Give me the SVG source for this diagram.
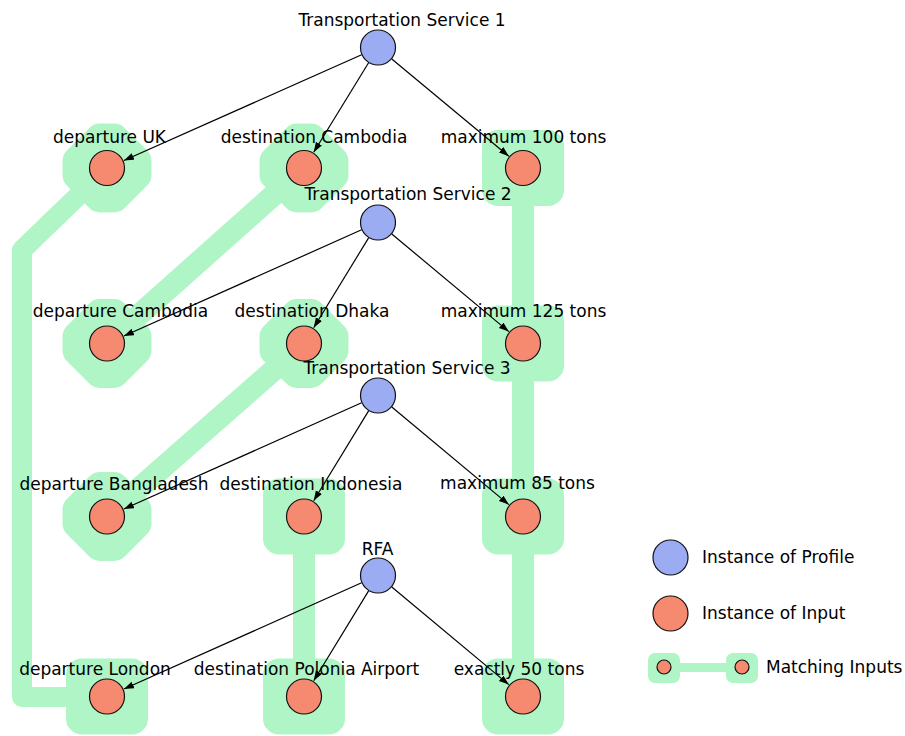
<svg xmlns="http://www.w3.org/2000/svg" xmlns:xlink="http://www.w3.org/1999/xlink" width="905" height="736" viewBox="0 0 905 736">
<style>
  .g { fill: #aff5c5; stroke: #aff5c5; }
  .gs { fill: #aff5c5; stroke: none; }
  .bar { fill: none; stroke: #aff5c5; stroke-width: 22; }
  .oct { stroke-width: 30; stroke-linejoin: round; }
  .edge { fill: none; stroke: #000; stroke-width: 1.2; marker-end: url(#arrow); }
  .prof { fill: #9bacf2; stroke: #111; stroke-width: 1.2; }
  .inp { fill: #f68a70; stroke: #111; stroke-width: 1.2; }
  text { font-family: "DejaVu Sans", "Liberation Sans", sans-serif; font-size: 17px; fill: #000; }
  .c { text-anchor: middle; }
</style>
<defs>
  <marker id="arrow" markerUnits="userSpaceOnUse" markerWidth="11" markerHeight="8" refX="10" refY="3.5" orient="auto">
    <path d="M0,0 L10,3.5 L0,7 z" fill="#000"/>
  </marker>
  <polygon id="oct" points="29.5,-7 29.5,7 7,29.5 -7,29.5 -29.5,7 -29.5,-7 -7,-29.5 7,-29.5"/>
  <rect id="sq" x="-41" y="-38" width="82" height="76" rx="16"/>
</defs>

<g id="matches">
  <line class="bar" x1="523" y1="168" x2="523" y2="696.5"/>
  <use href="#sq" class="gs" x="523" y="168"/>
  <use href="#sq" class="gs" x="523" y="343.5"/>
  <use href="#sq" class="gs" x="523" y="516.5"/>
  <use href="#sq" class="gs" x="523" y="696.5"/>
  <line class="bar" x1="304" y1="516.5" x2="304" y2="696.5"/>
  <use href="#sq" class="gs" x="304" y="516.5"/>
  <use href="#sq" class="gs" x="304" y="696.5"/>
  <path d="M107,168 L22,250 L22,697 L107,697" fill="none" stroke="#aff5c5" stroke-width="20" stroke-linejoin="round"/>
  <use href="#oct" class="g oct" x="107" y="168"/>
  <use href="#sq" class="gs" x="107" y="696.5"/>
  <line class="bar" x1="304" y1="168" x2="107" y2="343.5"/>
  <use href="#oct" class="g oct" x="304" y="168"/>
  <use href="#oct" class="g oct" x="107" y="343.5"/>
  <line class="bar" x1="304" y1="343.5" x2="107" y2="516.5"/>
  <use href="#oct" class="g oct" x="304" y="343.5"/>
  <use href="#oct" class="g oct" x="107" y="516.5"/>
</g>

<g id="edges">
  <line class="edge" x1="361.6" y1="54.8" x2="123.9" y2="160.5"/>
  <line class="edge" x1="368.6" y1="62.8" x2="313.7" y2="152.2"/>
  <line class="edge" x1="391.8" y1="59.0" x2="508.8" y2="156.2"/>

  <line class="edge" x1="361.6" y1="229.8" x2="123.9" y2="336.0"/>
  <line class="edge" x1="368.6" y1="237.9" x2="313.7" y2="327.7"/>
  <line class="edge" x1="391.8" y1="234.0" x2="508.8" y2="331.6"/>

  <line class="edge" x1="361.6" y1="402.8" x2="123.9" y2="509.0"/>
  <line class="edge" x1="368.6" y1="410.9" x2="313.7" y2="500.7"/>
  <line class="edge" x1="391.8" y1="407.0" x2="508.8" y2="504.6"/>

  <line class="edge" x1="361.6" y1="582.8" x2="123.9" y2="689.0"/>
  <line class="edge" x1="368.6" y1="590.9" x2="313.7" y2="680.7"/>
  <line class="edge" x1="391.8" y1="587.0" x2="508.8" y2="684.6"/>
</g>

<g id="ts1"><circle class="prof" cx="378" cy="47.5" r="17.5"/><text class="c" x="402" y="26">Transportation Service 1</text></g>
<g id="ts2"><circle class="prof" cx="378" cy="222.5" r="17.5"/><text class="c" x="408" y="200">Transportation Service 2</text></g>
<g id="ts3"><circle class="prof" cx="378" cy="395.5" r="17.5"/><text class="c" x="407" y="374">Transportation Service 3</text></g>
<g id="rfa"><circle class="prof" cx="378" cy="575.5" r="17.5"/><text class="c" x="377.5" y="555">RFA</text></g>

<g id="dep-uk"><circle class="inp" cx="107" cy="168" r="17.5"/><text class="c" x="109.5" y="143">departure UK</text></g>
<g id="dest-cambodia"><circle class="inp" cx="304" cy="168" r="17.5"/><text class="c" x="314" y="143">destination Cambodia</text></g>
<g id="max-100"><circle class="inp" cx="523" cy="168" r="17.5"/><text class="c" x="523.5" y="143">maximum 100 tons</text></g>

<g id="dep-cambodia"><circle class="inp" cx="107" cy="343.5" r="17.5"/><text class="c" x="120.5" y="317">departure Cambodia</text></g>
<g id="dest-dhaka"><circle class="inp" cx="304" cy="343.5" r="17.5"/><text class="c" x="312" y="317">destination Dhaka</text></g>
<g id="max-125"><circle class="inp" cx="523" cy="343.5" r="17.5"/><text class="c" x="523.5" y="317">maximum 125 tons</text></g>

<g id="dep-bangladesh"><circle class="inp" cx="107" cy="516.5" r="17.5"/><text class="c" x="114" y="490">departure Bangladesh</text></g>
<g id="dest-indonesia"><circle class="inp" cx="304" cy="516.5" r="17.5"/><text class="c" x="311" y="490">destination Indonesia</text></g>
<g id="max-85"><circle class="inp" cx="523" cy="516.5" r="17.5"/><text class="c" x="517.5" y="489">maximum 85 tons</text></g>

<g id="dep-london"><circle class="inp" cx="107" cy="696.5" r="17.5"/><text class="c" x="95" y="675">departure London</text></g>
<g id="dest-polonia"><circle class="inp" cx="304" cy="696.5" r="17.5"/><text class="c" x="306.5" y="675">destination Polonia Airport</text></g>
<g id="exactly-50"><circle class="inp" cx="523" cy="696.5" r="17.5"/><text class="c" x="519" y="675">exactly 50 tons</text></g>

<g id="legend">
  <circle class="prof" cx="670.5" cy="557.5" r="17.5"/>
  <text x="702" y="563">Instance of Profile</text>
  <circle class="inp" cx="670.5" cy="613.5" r="17.5"/>
  <text x="702" y="619">Instance of Input</text>
  <line x1="680" y1="667.5" x2="726" y2="667.5" stroke="#aff5c5" stroke-width="9"/>
  <rect x="648" y="653" width="32" height="30" rx="7" class="gs"/>
  <rect x="726" y="653" width="32" height="30" rx="7" class="gs"/>
  <circle class="inp" cx="664" cy="667" r="7" stroke-width="1"/>
  <circle class="inp" cx="742" cy="667" r="7" stroke-width="1"/>
  <text x="766" y="673">Matching Inputs</text>
</g>
</svg>
